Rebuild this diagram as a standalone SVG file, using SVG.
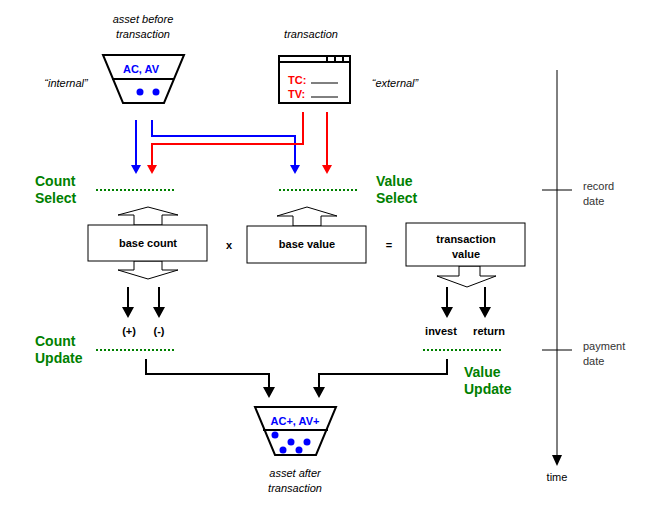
<svg xmlns="http://www.w3.org/2000/svg" width="654" height="519" viewBox="0 0 654 519">
<style>
text{font-family:"Liberation Sans",Arial,sans-serif;font-size:11px}
.it{font-style:italic}
.b{font-weight:bold}
.g{fill:#008000;font-weight:bold;font-size:14px}
.c{text-anchor:middle}
.s{fill:none;stroke:#000;stroke-width:2}
.o{fill:#fff;stroke:#000;stroke-width:1}
.dot{stroke:#008000;stroke-width:2;stroke-dasharray:2 2}
</style>
<rect width="654" height="519" fill="#fff"/>
<g id="asset-before">
<text class="it c" x="143" y="23">asset before</text>
<text class="it c" x="143" y="38">transaction</text>
<path class="s" d="M103,55H184L164,103H123Z M112,79H174"/>
<text class="b c" x="141" y="73" fill="#0000ff" font-size="12">AC, AV</text>
<circle cx="140" cy="92" r="3.5" fill="#0000ff"/><circle cx="156" cy="92" r="3.5" fill="#0000ff"/>
<text class="it c" x="66" y="87">“internal”</text>
</g>
<g id="transaction">
<text class="it c" x="311" y="38">transaction</text>
<rect class="s" x="279" y="56" width="71" height="47" fill="#fff"/>
<path class="s" d="M279,62H350M327,56V62M335,56V62M343,56V62"/>
<path stroke="#000" stroke-width="1" d="M311,83H338M311,97H338"/>
<text class="b" x="288" y="84" fill="#ff0000" font-size="12">TC:</text>
<text class="b" x="288" y="98" fill="#ff0000" font-size="12">TV:</text>
<text class="it c" x="395" y="87">“external”</text>
</g>
<g id="connectors">
<g fill="none" stroke-width="2">
<path stroke="#0000ff" d="M136,120V166M152,120V136H295V166"/>
<path stroke="#ff0000" d="M303,112V144H152V166M327,112V166"/>
<path stroke="#000" d="M128,287V310M159,287V310M447,287V310M485,287V310M146,359V374H269V390M447,359V374H319V390"/>
</g>
<path fill="#0000ff" d="M131,165H141L136,174ZM290,165H300L295,174Z"/>
<path fill="#ff0000" d="M147,165H157L152,174ZM322,165H332L327,174Z"/>
<path fill="#000" d="M122,307H134L128,318ZM153,307H165L159,318ZM441,307H453L447,318ZM479,307H491L485,318ZM263,387H275L269,398ZM313,387H325L319,398Z"/>
</g>
<g id="count-select"><text class="g" x="35" y="186">Count</text><text class="g" x="35" y="203">Select</text><line class="dot" x1="96" y1="190" x2="174" y2="190"/></g>
<g id="value-select"><text class="g" x="376" y="186">Value</text><text class="g" x="376" y="203">Select</text><line class="dot" x1="279" y1="190" x2="357" y2="190"/></g>
<g id="base-count">
<path class="o" d="M148,207L178,215H162V225H134V215H118Z"/>
<path class="o" d="M134,261H162V270H178L148,279L118,270H134Z"/>
<rect class="o" x="88" y="225" width="119" height="36"/>
<text class="b c" x="148" y="247">base count</text>
</g>
<text class="b c" x="229" y="249" font-size="12">x</text>
<g id="base-value">
<path class="o" d="M307,207L337,216H321V226H293V216H277Z"/>
<rect class="o" x="247" y="226" width="119" height="37"/>
<text class="b c" x="307" y="248">base value</text>
</g>
<text class="b c" x="389" y="249" font-size="12">=</text>
<g id="transaction-value">
<path class="o" d="M459,266H480V276H496L467,287L437,276H459Z"/>
<rect class="o" x="406" y="223" width="119" height="43"/>
<text class="b c" x="466" y="243">transaction</text>
<text class="b c" x="466" y="258">value</text>
</g>
<g id="labels">
<text class="b c" x="129" y="335">(+)</text><text class="b c" x="159" y="335">(-)</text>
<text class="b c" x="441" y="335">invest</text><text class="b c" x="489" y="335">return</text>
</g>
<g id="count-update"><text class="g" x="35" y="346">Count</text><text class="g" x="35" y="363">Update</text><line class="dot" x1="96" y1="350" x2="174" y2="350"/></g>
<g id="value-update"><text class="g" x="464" y="377">Value</text><text class="g" x="464" y="394">Update</text><line class="dot" x1="423" y1="350" x2="501" y2="350"/></g>
<g id="asset-after">
<path class="s" d="M255,407H336L316,455H275Z M263,430H328"/>
<text class="b c" x="295" y="425" fill="#0000ff" font-size="12">AC+, AV+</text>
<g fill="#0000ff"><circle cx="275" cy="435" r="3.5"/><circle cx="291" cy="442" r="3.5"/><circle cx="307" cy="442" r="3.5"/><circle cx="283" cy="450" r="3.5"/><circle cx="299" cy="450" r="3.5"/></g>
<text class="it c" x="295" y="477">asset after</text>
<text class="it c" x="295" y="492">transaction</text>
</g>
<g id="time-axis">
<path stroke="#000" stroke-width="1" d="M557,70V458M542,190H572M542,350H572"/>
<path fill="#000" d="M552,455H562L557,466Z"/>
<text x="583" y="190" font-size="10" fill="#333">record</text><text x="583" y="205" font-size="10" fill="#333">date</text>
<text x="583" y="350" font-size="10" fill="#333">payment</text><text x="583" y="365" font-size="10" fill="#333">date</text>
<text class="c" x="557" y="481" font-size="15">time</text>
</g>
</svg>
